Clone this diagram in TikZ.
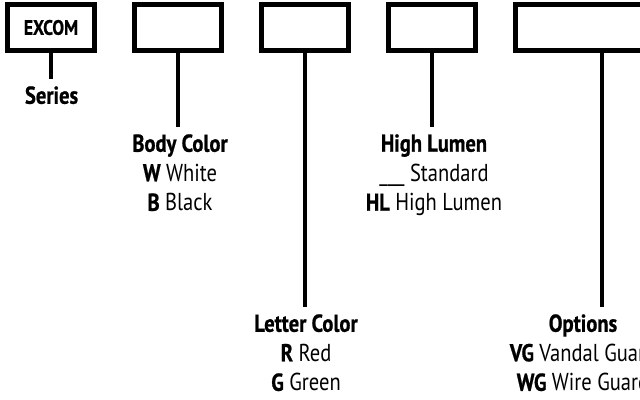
\documentclass[tikz,border=0pt]{standalone}
\usepackage{fontspec}
\setmainfont{PT Sans}[FakeStretch=0.84, BoldFeatures={FakeBold=0.8}]
\usetikzlibrary{positioning}

\begin{document}
\begin{tikzpicture}[
    codebox/.style={draw, line width=0.125cm, minimum width=2.175cm, minimum height=1.15cm, inner sep=0pt, font=\bfseries\fontsize{14.8}{16}\selectfont},
    legend/.style={anchor=north, align=center, inner sep=0pt, font=\fontsize{17.4}{21}\selectfont},
    stem/.style={line width=0.1cm, shorten >=0.17cm}
]
    \useasboundingbox (0,0) rectangle (16,-9.975);
    % code boxes
    \node[codebox] (series) at (1.275,-0.6875) {EXCOM};
    \node[codebox, right=0.875cm of series] (body) {};
    \node[codebox, right=0.875cm of body] (letter) {};
    \node[codebox, right=0.875cm of letter] (lumen) {};
    \node[codebox, minimum width=4.3cm, right=0.875cm of lumen] (opts) {};
    % legends
    \node[legend] (seriesl) at (1.29,-2.15) {\textbf{Series}};
    \node[legend] (bodyl) at (4.5,-3.35) {\textbf{Body Color}\\\textbf{W} White\\\textbf{B} Black};
    \node[legend] (letterl) at (7.65,-7.85) {\textbf{Letter Color}\\\textbf{R} Red\\\textbf{G} Green};
    \node[legend] (lumenl) at (10.85,-3.35) {\textbf{High Lumen}\\\_\_\_ Standard\\\textbf{HL} High Lumen};
    \node[legend] (optsl) at (14.575,-7.85) {\textbf{Options}\\\textbf{VG} Vandal Guard\\\textbf{WG} Wire Guard};
    % stems
    \foreach \b/\l in {series/seriesl, body/bodyl, letter/letterl, lumen/lumenl, opts/optsl}
        \draw[stem] (\b.south) -- (\b.south |- \l.north);
\end{tikzpicture}
\end{document}
